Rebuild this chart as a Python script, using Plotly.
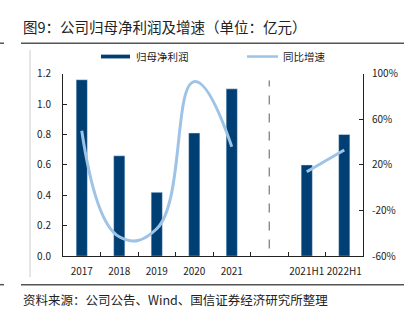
import plotly.graph_objects as go

categories = ["2017", "2018", "2019", "2020", "2021", " ", "2021H1", "2022H1"]
profit = [1.16, 0.66, 0.42, 0.81, 1.10, None, 0.60, 0.80]
growth_annual_cats = ["2017", "2018", "2019", "2020", "2021"]
growth_annual = [50, -43, -36, 93, 36]
growth_half_cats = ["2021H1", "2022H1"]
growth_half = [14, 33]
right_ticks = [-60, -20, 20, 60, 100]

W, H = 410, 324
FONT = "Noto Sans CJK SC"
BAR_C = "#003f74"
LINE_C = "#9dc3e6"

def px(x):
    return x / W

def py(y):
    return 1 - y / H

fig = go.Figure()
fig.add_trace(go.Bar(x=categories, y=profit, marker_color=BAR_C, width=0.3,
                     name="归母净利润", showlegend=False, yaxis="y"))
fig.add_trace(go.Scatter(x=growth_annual_cats, y=growth_annual, mode="lines",
                         line=dict(color=LINE_C, width=3, shape="spline", smoothing=1.3),
                         name="同比增速", showlegend=False, yaxis="y2"))
fig.add_trace(go.Scatter(x=growth_half_cats, y=growth_half, mode="lines",
                         line=dict(color=LINE_C, width=3),
                         name="同比增速", showlegend=False, yaxis="y2"))

shapes = [
    dict(type="line", xref="paper", yref="paper", x0=px(21), x1=px(404), y0=py(36), y1=py(36),
         line=dict(color="#555555", width=1.5)),
    dict(type="line", xref="paper", yref="paper", x0=0, x1=px(4), y0=py(36), y1=py(36),
         line=dict(color="#555555", width=1.5)),
    dict(type="line", xref="paper", yref="paper", x0=px(21), x1=px(404), y0=py(290), y1=py(290),
         line=dict(color="#555555", width=1.5)),
    dict(type="line", xref="paper", yref="paper", x0=0, x1=px(4), y0=py(290), y1=py(290),
         line=dict(color="#555555", width=1.5)),
    dict(type="line", xref="paper", yref="paper", x0=px(30), x1=px(30), y0=py(43), y1=py(282),
         line=dict(color="#cccccc", width=1)),
    dict(type="line", xref="x", yref="y", x0=5, x1=5, y0=0.05, y1=1.155,
         line=dict(color="#777777", width=1.2, dash="dash")),
    dict(type="rect", xref="paper", yref="paper", x0=px(101), x1=px(130), y0=py(52), y1=py(48),
         fillcolor=BAR_C, line=dict(width=0)),
    dict(type="line", xref="paper", yref="paper", x0=px(247), x1=px(278), y0=py(50), y1=py(50),
         line=dict(color=LINE_C, width=2.5)),
]

annotations = [
    dict(text="图9：公司归母净利润及增速（单位：亿元）", xref="paper", yref="paper",
         x=px(21), y=py(18), xanchor="left", yanchor="middle", showarrow=False,
         font=dict(family=FONT, size=14.5, color="#222222")),
    dict(text="资料来源：公司公告、Wind、国信证券经济研究所整理", xref="paper", yref="paper",
         x=px(21), y=py(306), xanchor="left", yanchor="middle", showarrow=False,
         font=dict(family=FONT, size=12.5, color="#222222")),
    dict(text="归母净利润", xref="paper", yref="paper", x=px(134), y=py(50),
         xanchor="left", yanchor="middle", showarrow=False,
         font=dict(family=FONT, size=10.5, color="#222222")),
    dict(text="同比增速", xref="paper", yref="paper", x=px(281), y=py(50),
         xanchor="left", yanchor="middle", showarrow=False,
         font=dict(family=FONT, size=10.5, color="#222222")),
]

fig.update_layout(
    width=W, height=H,
    margin=dict(l=0, r=0, t=0, b=0),
    paper_bgcolor="white", plot_bgcolor="white",
    font=dict(family=FONT, size=10, color="#222222"),
    showlegend=False,
    xaxis=dict(domain=[px(63), px(363)], type="category", categoryorder="array",
               categoryarray=categories, showline=True, linecolor="#222222", linewidth=1,
               ticks="inside", tickson="boundaries", ticklen=4, tickcolor="#222222",
               showgrid=False, tickfont=dict(size=10), tickangle=0, range=[-0.5, 7.5],
               ticklabelstandoff=6),
    yaxis=dict(domain=[py(260), py(68)], range=[0, 1.2], dtick=0.2, tickformat=".1f",
               showline=True, linecolor="#222222", linewidth=1, ticks="inside",
               ticklen=4, tickcolor="#222222", showgrid=False, zeroline=False,
               tickfont=dict(size=10), anchor="x", ticklabelstandoff=9),
    yaxis2=dict(domain=[py(260), py(68)], range=[-60, 100], tickmode="array",
                tickvals=right_ticks, ticktext=[f"{v}%" for v in right_ticks],
                overlaying="y", side="right", showline=True, linecolor="#222222",
                linewidth=1, ticks="inside", ticklen=4, tickcolor="#222222",
                showgrid=False, zeroline=False, tickfont=dict(size=10), anchor="x",
                ticklabelstandoff=6),
    shapes=shapes,
    annotations=annotations,
)

fig.write_html("out.html")
